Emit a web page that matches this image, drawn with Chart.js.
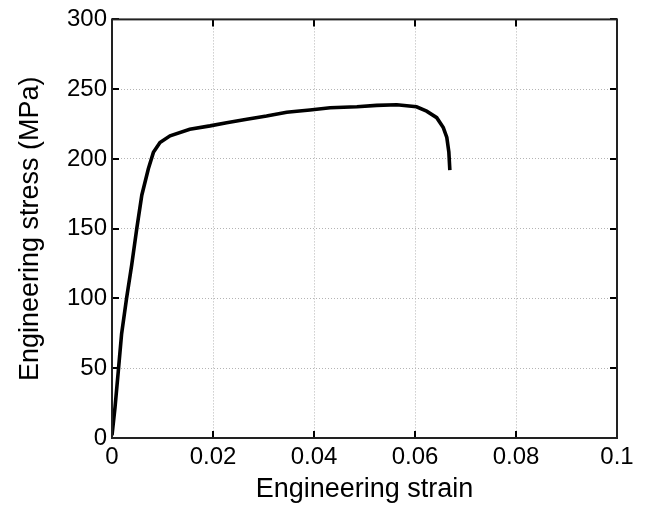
<!DOCTYPE html>
<html>
<head>
<meta charset="utf-8">
<script src="https://cdn.jsdelivr.net/npm/chart.js@4/dist/chart.umd.min.js"></script>
<style>
  html, body { margin: 0; padding: 0; background: #fff; }
  #wrap { width: 645px; height: 507px; }
</style>
</head>
<body>
<div id="wrap"><canvas id="StressStrain"></canvas></div>
<script>
// tensile test curve
var strain = [0, 0.0006, 0.00125, 0.0019, 0.0029, 0.0039, 0.0049, 0.0059, 0.0072, 0.0082, 0.0095,
    0.0115, 0.0154, 0.0194, 0.0227, 0.0267, 0.0306, 0.0346, 0.0366, 0.0392, 0.0432, 0.0485,
    0.0524, 0.0564, 0.0603, 0.0623, 0.0643, 0.0656, 0.0663, 0.0667, 0.0669];
var stress = [2, 22, 48, 74.6, 100.5, 124, 150, 174, 193, 204.7, 211.8,
    216.6, 221.3, 223.7, 226, 228.4, 230.7, 233.5, 234.2, 235.1, 236.7, 237.4,
    238.4, 238.8, 237.4, 234.2, 229.6, 222.5, 215.4, 205, 192];

var xTickLabels = ["0", "0.02", "0.04", "0.06", "0.08", "0.1"];
var yTickLabels = ["0", "50", "100", "150", "200", "250", "300"];

var points = strain.map(function (s, i) { return { x: s, y: stress[i] }; });

// matlab style box with inward ticks on all four sides
var boxTicks = {
    id: 'boxTicks',
    afterDraw: function (chart) {
        var ctx = chart.ctx;
        var a = chart.chartArea;
        var xs = chart.scales.x, ys = chart.scales.y;
        var len = 7;
        ctx.save();
        ctx.strokeStyle = '#000';
        ctx.lineWidth = 2;
        ctx.beginPath();
        xs.ticks.forEach(function (t) {
            var px = Math.round(xs.getPixelForValue(t.value));
            ctx.moveTo(px, a.bottom); ctx.lineTo(px, a.bottom - len);
            ctx.moveTo(px, a.top); ctx.lineTo(px, a.top + len);
        });
        ys.ticks.forEach(function (t) {
            var py = Math.round(ys.getPixelForValue(t.value));
            ctx.moveTo(a.left, py); ctx.lineTo(a.left + len, py);
            ctx.moveTo(a.right, py); ctx.lineTo(a.right - len, py);
        });
        ctx.stroke();
        ctx.strokeStyle = '#222';
        ctx.strokeRect(a.left, a.top, a.right - a.left, a.bottom - a.top);
        ctx.restore();
    }
};

var gridStyle = {
    color: '#b4b4b4',
    lineWidth: 1,
    drawTicks: false
};

new Chart(document.getElementById('StressStrain'), {
    type: 'line',
    data: {
        datasets: [{
            data: points,
            borderColor: '#000',
            borderWidth: 3.6,
            pointRadius: 0,
            tension: 0,
            fill: false
        }]
    },
    options: {
        responsive: true,
        maintainAspectRatio: false,
        animation: false,
        layout: { padding: { top: 16, right: 28, left: 0, bottom: 0 } },
        plugins: { legend: { display: false }, tooltip: { enabled: false } },
        scales: {
            x: {
                type: 'linear',
                min: 0,
                max: 0.1,
                ticks: {
                    stepSize: 0.02,
                    color: '#000',
                    padding: 5,
                    maxRotation: 0,
                    font: { family: 'Liberation Sans', size: 24 },
                    callback: function (v, i) { return xTickLabels[i]; }
                },
                grid: gridStyle,
                border: { display: false, dash: [1, 2] },
                title: {
                    display: true,
                    text: 'Engineering strain',
                    color: '#000',
                    font: { family: 'Liberation Sans', size: 27 },
                    padding: { top: 0, bottom: 1 }
                },
                afterFit: function (s) { s.height = 69; }
            },
            y: {
                min: 0,
                max: 300,
                ticks: {
                    stepSize: 50,
                    color: '#000',
                    padding: 5,
                    font: { family: 'Liberation Sans', size: 24 },
                    callback: function (v, i) { return yTickLabels[i]; }
                },
                grid: gridStyle,
                border: { display: false, dash: [1, 2] },
                title: {
                    display: true,
                    text: 'Engineering stress (MPa)',
                    color: '#000',
                    font: { family: 'Liberation Sans', size: 27 },
                    padding: { top: 14, bottom: 0 }
                },
                afterFit: function (s) { s.width = 112; }
            }
        }
    },
    plugins: [boxTicks]
});
</script>
</body>
</html>
